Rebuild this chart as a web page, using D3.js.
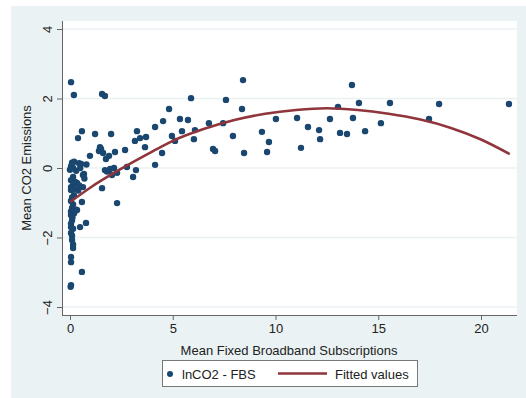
<!DOCTYPE html>
<html>
<head>
<meta charset="utf-8">
<script src="https://cdn.jsdelivr.net/npm/d3@7"></script>
<style>
  body { margin: 0; background: #fff; }
  text { font-family: "Liberation Sans", Arial, sans-serif; fill: #222; }
</style>
</head>
<body>
<div id="chart"></div>
<script>
// scatter data: mean fixed broadband subscriptions vs mean CO2 emissions (ln)
const fbs = [
  0.05, 0.19, 0.10, 0.20, 0.05, 0.15, 0.00, 0.30, 0.15, 0.05, 0.25, 0.15, 0.34, 0.05, 0.20, 0.05, 0.19, 0.10, 0.05, 0.15,
  0.10, 0.30, 0.05, 0.20, 0.05, 0.12, 0.10, 0.05, 0.05, 0.15, 0.05, 0.10, 0.10, 0.15, 0.15, 0.05, 0.05, 0.05, 0.03,
  0.44, 0.54, 0.58, 0.39, 0.68, 0.63, 0.63, 0.45, 0.58, 0.34, 0.49, 0.78, 0.58, 0.50, 0.70, 0.40, 0.80, 0.97,
  1.22, 2.00, 1.51, 1.41, 1.61, 2.19, 1.90, 1.75, 1.56, 1.70, 1.70, 1.95, 2.14, 2.04, 1.56, 2.29, 1.46, 1.80, 2.29,
  2.68, 2.77, 3.21, 4.14, 3.07, 3.26, 3.41, 3.70, 3.16, 3.65, 4.48, 4.14, 4.53, 4.82, 4.96,
  5.89, 5.35, 5.74, 6.76, 5.45, 6.08, 5.11, 6.03, 6.96, 7.06, 8.42, 7.59, 8.37, 7.45, 7.93, 8.47, 9.34, 9.68, 9.59, 10.02,
  11.05, 11.58, 11.24, 12.12, 12.17, 13.72, 14.06, 15.57, 13.04, 12.65, 13.77, 15.13, 13.14, 13.48, 14.36, 17.96, 21.36, 17.47
];
const lnco2 = [
  2.47, 2.10, 0.15, 0.18, 0.05, 0.00, -0.05, -0.08, -0.26, -0.35, -0.40, -0.49, -0.43, -0.55, -0.60, -0.63, -0.78, -0.85, -0.95, -1.05,
  -1.15, -1.20, -1.25, -1.30, -1.35, -1.42, -1.50, -1.60, -1.70, -1.75, -1.87, -1.95, -2.07, -2.20, -2.30, -2.56, -2.71, -3.37, -3.42,
  0.14, 0.12, 1.06, 0.86, -0.17, -0.20, -0.55, -0.50, -0.98, -1.21, -1.70, -1.58, -2.99, 0.00, -0.30, -0.65, 0.10, 0.35,
  0.98, 0.98, 0.55, 0.49, 0.43, 0.46, 0.35, 0.26, 2.13, 2.07, -0.06, -0.03, 0.00, -0.20, -0.58, -1.01, 0.60, -0.10, -0.14,
  0.52, 0.03, -0.06, 0.09, -0.26, 1.06, 0.86, 0.89, 0.78, 0.60, 0.43, 1.18, 1.35, 1.70, 0.92,
  2.01, 1.41, 1.38, 1.29, 1.06, 1.09, 0.78, 0.83, 0.55, 0.49, 2.53, 1.96, 1.70, 1.29, 0.92, 0.43, 1.04, 0.75, 0.46, 1.41,
  1.44, 1.18, 0.58, 1.09, 0.83, 2.39, 1.87, 1.87, 1.76, 1.41, 1.44, 1.29, 1.01, 0.98, 1.06, 1.84, 1.84, 1.41
];

// fitted values (quadratic fit)
const fitX = [0, 1, 2.5, 4, 5, 6.5, 8, 9.5, 11, 12.5, 14, 15.5, 17, 18.5, 20, 21.4];
const fitY = [-0.98, -0.56, -0.02, 0.47, 0.78, 1.12, 1.38, 1.56, 1.67, 1.72, 1.67, 1.56, 1.40, 1.16, 0.82, 0.40];

const xTicks = [0, 5, 10, 15, 20];
const yTicks = [-4, -2, 0, 2, 4];
const legendLabels = ["lnCO2 - FBS", "Fitted values"];

const width = 526, height = 398;
const navy = "#1a476f";
const maroon = "#90353b";
const bgColor = "#eaf2f3";

const svg = d3.select("#chart").append("svg")
    .attr("width", width)
    .attr("height", height);

// outer graph region
svg.append("rect")
    .attr("x", 11).attr("y", 6)
    .attr("width", width - 11).attr("height", height - 6)
    .attr("fill", bgColor);

// plot region
const plotLeft = 62, plotTop = 21, plotRight = 517, plotBottom = 315;
svg.append("rect")
    .attr("x", plotLeft).attr("y", plotTop)
    .attr("width", plotRight - plotLeft).attr("height", plotBottom - plotTop)
    .attr("fill", "#fff");

const x = d3.scaleLinear().domain([0, 20]).range([70, 481]);
const y = d3.scaleLinear().domain([-4, 4]).range([307, 29]);

// gridlines
svg.append("g")
    .selectAll("line")
    .data(yTicks)
    .join("line")
    .attr("x1", plotLeft).attr("x2", plotRight)
    .attr("y1", d => y(d)).attr("y2", d => y(d))
    .attr("stroke", bgColor)
    .attr("stroke-width", 1.5);

// scatter
const pts = fbs.map((v, i) => ({ x: v, y: lnco2[i] }));
svg.append("g")
    .selectAll("circle")
    .data(pts)
    .join("circle")
    .attr("cx", d => x(d.x))
    .attr("cy", d => y(d.y))
    .attr("r", 3.2)
    .attr("fill", navy);

// fitted line
const fit = fitX.map((v, i) => [v, fitY[i]]);
svg.append("path")
    .datum(fit)
    .attr("fill", "none")
    .attr("stroke", maroon)
    .attr("stroke-width", 2.6)
    .attr("d", d3.line().x(d => x(d[0])).y(d => y(d[1])).curve(d3.curveMonotoneX));

// x axis
const xAxis = svg.append("g")
    .attr("transform", `translate(0,${plotBottom})`)
    .call(d3.axisBottom(x).tickValues(xTicks).tickSize(5).tickPadding(4).tickSizeOuter(0));
xAxis.select(".domain").attr("d", `M${plotLeft},0.5H${plotRight}`).attr("stroke", "#666");
xAxis.selectAll(".tick line").attr("stroke", "#666");
xAxis.selectAll(".tick text").style("font-size", "13px").attr("fill", "#222");

// y axis
const yAxis = svg.append("g")
    .attr("transform", `translate(${plotLeft},0)`)
    .call(d3.axisLeft(y).tickValues(yTicks).tickSize(5).tickSizeOuter(0));
yAxis.select(".domain").attr("d", `M0.5,${plotTop}V${plotBottom}`).attr("stroke", "#666");
yAxis.selectAll(".tick line").attr("stroke", "#666");
yAxis.selectAll(".tick text")
    .style("font-size", "13px")
    .attr("fill", "#222")
    .attr("x", 0).attr("dy", 0)
    .attr("text-anchor", "middle")
    .attr("transform", "translate(-10,0) rotate(-90)");

// axis titles
svg.append("text")
    .attr("x", 289).attr("y", 355)
    .attr("text-anchor", "middle")
    .style("font-size", "13px")
    .text("Mean Fixed Broadband Subscriptions");

svg.append("text")
    .attr("transform", "translate(31,168) rotate(-90)")
    .attr("text-anchor", "middle")
    .style("font-size", "13px")
    .text("Mean CO2 Emissions");

// legend
const legend = svg.append("g");
legend.append("rect")
    .attr("x", 162.5).attr("y", 360.5)
    .attr("width", 255).attr("height", 26)
    .attr("fill", "#fff")
    .attr("stroke", "#777");
legend.append("circle")
    .attr("cx", 170).attr("cy", 374).attr("r", 3)
    .attr("fill", navy);
legend.append("text")
    .attr("x", 182).attr("y", 378.5)
    .style("font-size", "13px")
    .text(legendLabels[0]);
legend.append("line")
    .attr("x1", 278).attr("x2", 327)
    .attr("y1", 373.5).attr("y2", 373.5)
    .attr("stroke", maroon)
    .attr("stroke-width", 2.6);
legend.append("text")
    .attr("x", 335).attr("y", 378.5)
    .style("font-size", "13px")
    .text(legendLabels[1]);
</script>
</body>
</html>
